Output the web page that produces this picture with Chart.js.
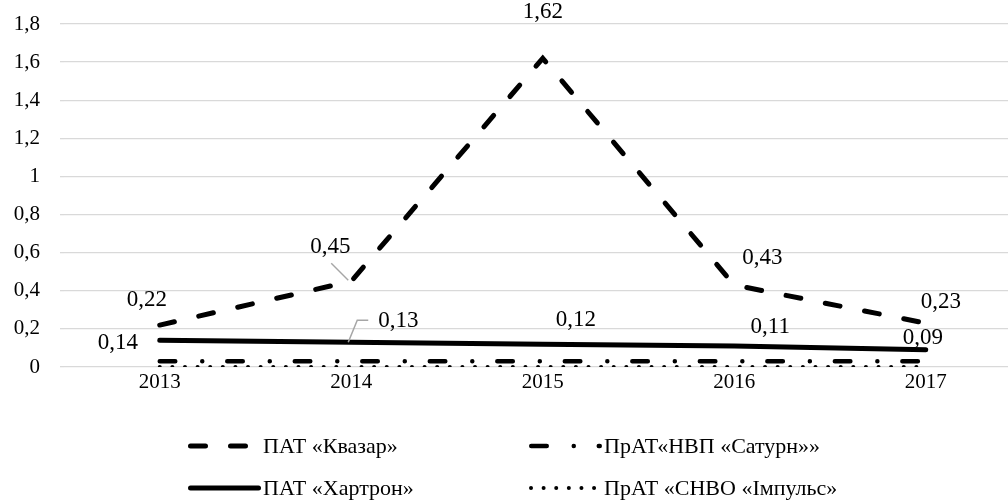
<!DOCTYPE html>
<html>
<head>
<meta charset="utf-8">
<script src="https://cdn.jsdelivr.net/npm/chart.js@4/dist/chart.umd.min.js"></script>
<style>
  html, body { margin: 0; padding: 0; background: #fff; overflow: hidden; }
  #wrap { width: 1024px; height: 502px; }
</style>
</head>
<body>
<div id="wrap"><canvas id="chart" width="1024" height="502"></canvas></div>
<script>
// Categories and series values
const years = ['2013', '2014', '2015', '2016', '2017'];
const kvazar = [0.22, 0.45, 1.62, 0.43, 0.23];
const saturn = [0.03, 0.03, 0.03, 0.03, 0.03];
const hartron = [0.14, 0.13, 0.12, 0.11, 0.09];
const impuls = [0, 0, 0, 0, 0];
const yTickLabels = ['0', '0,2', '0,4', '0,6', '0,8', '1', '1,2', '1,4', '1,6', '1,8'];
const seriesNames = ['ПАТ «Квазар»', 'ПрАТ«НВП «Сатурн»»', 'ПАТ «Хартрон»', 'ПрАТ «СНВО «Імпульс»'];

const FONT = '"Liberation Serif", "Times New Roman", serif';
const TEXT = '#000000';

// Value label offsets (pixels from each point), per labelled dataset index
const labelOffsets = {
  0: [[-13, -25], [-21, -34], [0, -46], [28, -27], [15, -21]],
  2: [[-42, 3], [47, -21], [33, -24], [36, -19], [-3, -12]]
};
// Leader lines: dataset, point, polyline relative to the point
const leaders = [
  { ds: 0, idx: 1, pts: [[-20, -18], [-3, -1]] },
  { ds: 2, idx: 1, pts: [[17, -22], [6, -22], [-3, 0]] }
];

const valueLabels = {
  id: 'valueLabels',
  afterDatasetsDraw(chart) {
    const ctx = chart.ctx;
    ctx.save();
    ctx.strokeStyle = '#a6a6a6';
    ctx.lineWidth = 1.5;
    leaders.forEach(l => {
      const p = chart.getDatasetMeta(l.ds).data[l.idx];
      ctx.beginPath();
      l.pts.forEach((o, k) => {
        const x = p.x + o[0], y = p.y + o[1];
        if (k === 0) ctx.moveTo(x, y); else ctx.lineTo(x, y);
      });
      ctx.stroke();
    });
    ctx.font = '23px ' + FONT;
    ctx.fillStyle = TEXT;
    ctx.textAlign = 'center';
    ctx.textBaseline = 'middle';
    Object.keys(labelOffsets).forEach(key => {
      const di = Number(key);
      const meta = chart.getDatasetMeta(di);
      const values = chart.data.datasets[di].data;
      meta.data.forEach((p, j) => {
        const o = labelOffsets[di][j];
        ctx.fillText(values[j].toFixed(2).replace('.', ','), p.x + o[0], p.y + o[1]);
      });
    });
    ctx.restore();
  }
};

// Two-column legend below the plot
const gridLegend = {
  id: 'gridLegend',
  afterDraw(chart) {
    const ctx = chart.ctx;
    const cols = [188, 529];
    const rows = [446, 488];
    const sampleLen = 73;
    ctx.save();
    chart.data.datasets.forEach((ds, k) => {
      const x0 = cols[k % 2];
      const y = rows[Math.floor(k / 2)];
      ctx.beginPath();
      ctx.strokeStyle = ds.borderColor;
      ctx.lineWidth = ds.borderWidth;
      ctx.lineCap = ds.borderCapStyle || 'butt';
      ctx.setLineDash(ds.borderDash || []);
      ctx.moveTo(x0 + ds.borderWidth / 2, y);
      ctx.lineTo(x0 + sampleLen - ds.borderWidth / 2, y);
      ctx.stroke();
      ctx.setLineDash([]);
      ctx.font = '22px ' + FONT;
      ctx.fillStyle = TEXT;
      ctx.textAlign = 'left';
      ctx.textBaseline = 'middle';
      ctx.fillText(ds.label, x0 + sampleLen + 2, y + 1);
    });
    ctx.restore();
  }
};

function draw() {
  new Chart(document.getElementById('chart'), {
    type: 'line',
    data: {
      labels: years,
      datasets: [
        { label: seriesNames[0], data: kvazar, borderColor: '#000', borderWidth: 5,
          borderDash: [15, 25], borderCapStyle: 'round' },
        { label: seriesNames[1], data: saturn, borderColor: '#000', borderWidth: 4.5,
          borderDash: [15.5, 27, 0.01, 25], borderCapStyle: 'round' },
        { label: seriesNames[2], data: hartron, borderColor: '#000', borderWidth: 5,
          borderCapStyle: 'round' },
        { label: seriesNames[3], data: impuls, borderColor: '#000', borderWidth: 4,
          borderDash: [0.01, 12.6], borderCapStyle: 'round' }
      ]
    },
    options: {
      responsive: false,
      animation: false,
      devicePixelRatio: 1,
      layout: { padding: { left: 0, top: 24, right: 2.5, bottom: 105 } },
      elements: {
        point: { radius: 0, hoverRadius: 0 },
        line: { tension: 0, fill: false }
      },
      plugins: {
        legend: { display: false },
        tooltip: { enabled: false }
      },
      scales: {
        x: {
          offset: true,
          afterFit(scale) { scale.height = 30; scale.paddingLeft = 0; scale.paddingRight = 0; },
          grid: { display: false, drawTicks: false },
          border: { display: false },
          ticks: { color: TEXT, font: { family: FONT, size: 21 }, padding: 3, maxRotation: 0 }
        },
        y: {
          min: 0,
          max: 1.8,
          afterFit(scale) { scale.width = 64; scale.paddingTop = 0; scale.paddingBottom = 0; },
          grid: { color: '#d9d9d9', lineWidth: 1.3, drawTicks: true, tickLength: 4 },
          border: { display: false },
          ticks: {
            stepSize: 0.2,
            padding: 20,
            color: TEXT,
            font: { family: FONT, size: 21 },
            callback: (v) => yTickLabels[Math.round(v / 0.2)]
          }
        }
      }
    },
    plugins: [valueLabels, gridLegend]
  });
}

const fontReady = document.fonts && document.fonts.load
  ? Promise.all([document.fonts.load('22px "Liberation Serif"'), document.fonts.load('22px "Liberation Serif"', 'ПАТ')])
  : Promise.resolve();
fontReady.then(draw, draw);
</script>
</body>
</html>
